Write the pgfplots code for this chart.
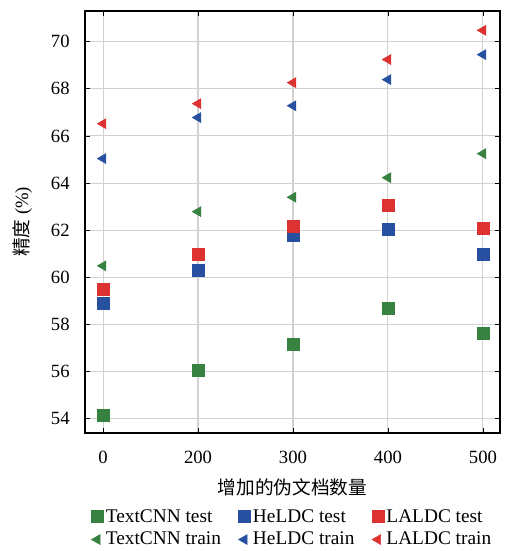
\documentclass[border=0pt]{standalone}
\usepackage{pgfplots}
\pgfplotsset{compat=1.18}
\usepackage{fontspec}
\setmainfont{Liberation Serif}
\newfontfamily\cjk{Noto Sans CJK SC}
\definecolor{cgreen}{RGB}{55,130,65}
\definecolor{cblue}{RGB}{40,80,160}
\definecolor{cred}{RGB}{220,50,50}
\begin{document}
\begin{tikzpicture}
\begin{axis}[
    scale only axis,
    width=311.25pt, height=316.5pt,
    xmin=-0.19, xmax=4.18,
    ymin=53.4, ymax=71.3,
    xtick={0,1,2,3,4},
    xticklabels={0,200,300,400,500},
    ytick={54,56,...,70},
    grid=major,
    grid style={gray!35, line width=0.8pt},
    axis line style={line width=1pt},
    tick style={black, line width=0.6pt},
    major tick length=4pt,
    tick label style={font=\fontsize{14}{16}\selectfont},
    xticklabel style={yshift=-10pt},
    yticklabel style={xshift=-8pt},
    /pgf/number format/assume math mode=true,
    xlabel={\cjk 增加的伪文档数量},
    ylabel={{\cjk 精度} (\%)},
    label style={font=\fontsize{14}{16}\selectfont},
    xlabel style={at={(axis description cs:0.5,-0.128)}, anchor=center},
    ylabel style={at={(axis description cs:-0.151,0.5)}, anchor=center},
    legend style={at={(0.5,-0.174)}, anchor=north, draw=none,
        legend columns=3, font=\fontsize{14.5}{15}\selectfont,
        inner sep=0pt, row sep=2pt,
        /tikz/every even column/.append style={column sep=11pt}},
    legend cell align=left,
    only marks,
]
\addplot[mark=square*, mark size=4.5pt, color=cgreen] coordinates {(0,54.17)(1,56.04)(2,57.18)(3,58.71)(4,57.65)};
\addplot[mark=square*, mark size=4.5pt, color=cblue] coordinates {(0,58.92)(1,60.32)(2,61.77)(3,62.06)(4,61.0)};
\addplot[mark=square*, mark size=4.5pt, color=cred] coordinates {(0,59.48)(1,61.0)(2,62.19)(3,63.04)(4,62.1)};
\addplot[mark=triangle*, mark size=4.3pt, color=cgreen, mark options={rotate=90}] coordinates {(0,60.49)(1,62.79)(2,63.4)(3,64.23)(4,65.25)};
\addplot[mark=triangle*, mark size=4.3pt, color=cblue, mark options={rotate=90}] coordinates {(0,65.04)(1,66.78)(2,67.28)(3,68.39)(4,69.45)};
\addplot[mark=triangle*, mark size=4.3pt, color=cred, mark options={rotate=90}] coordinates {(0,66.52)(1,67.37)(2,68.26)(3,69.24)(4,70.48)};
\legend{TextCNN test, HeLDC test, LALDC test, TextCNN train, HeLDC train, LALDC train}
\end{axis}
\path (current axis.south west) ++(-63.75pt,-88.5pt) (current axis.north east) ++(9pt,8.25pt);
\end{tikzpicture}
\end{document}
